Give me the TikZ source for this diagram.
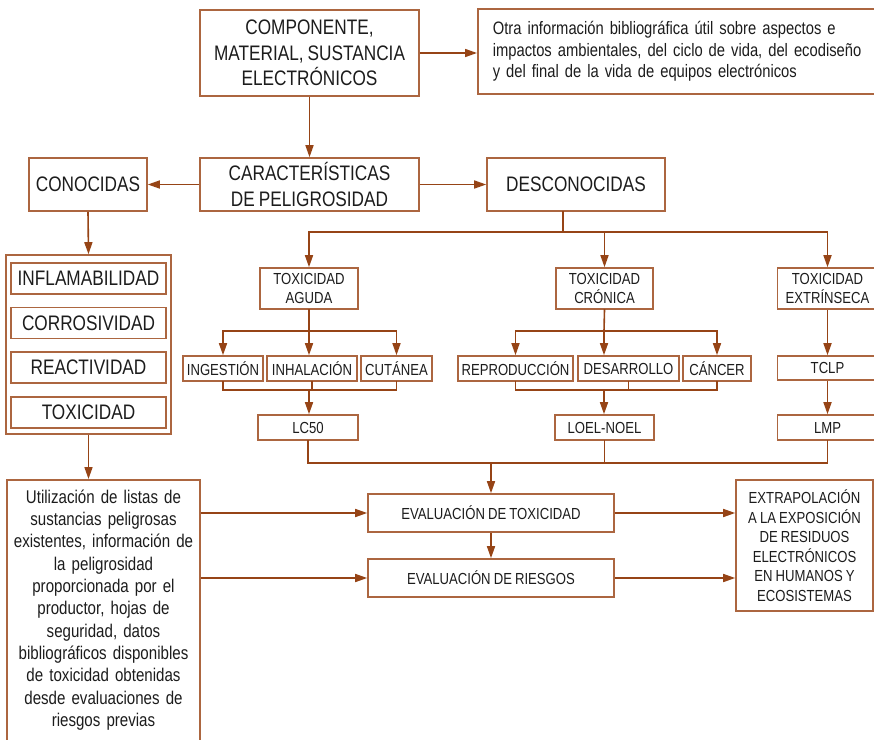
\documentclass[tikz,border=0pt]{standalone}
\usepackage{fontspec}
\setmainfont{Liberation Sans}[FakeStretch=0.82, WordSpace=0.85]
\usetikzlibrary{arrows.meta}
\definecolor{cafe}{RGB}{172,102,64}
\definecolor{cafeosc}{RGB}{150,68,22}
\definecolor{tinta}{RGB}{28,28,28}
\tikzset{
  caja/.style={draw=cafe, line width=1.6pt, text=tinta, inner sep=0pt, align=center},
  grande/.style={font=\fontsize{21}{25.5}\selectfont},
  medio/.style={font=\fontsize{18.4}{22.3}\selectfont},
  texto/.style={font=\fontsize{18}{21.7}\selectfont},
  chico/.style={font=\fontsize{16}{19.5}\selectfont},
  linea/.style={draw=cafeosc, line width=1.6pt, line cap=rect},
  flecha/.style={draw=cafeosc, line width=1.6pt, -{Triangle[length=12pt,width=8pt]}}
}
\begin{document}
\begin{tikzpicture}[x=1pt, y=-1pt]
\useasboundingbox (0,0) rectangle (874,739);
\node[caja, grande, minimum width=219, minimum height=86] (comp) at (309.5,53) {COMPONENTE,\\MATERIAL, SUSTANCIA\\ELECTRÓNICOS};
\node[caja, texto, anchor=west, text width=378, inner xsep=15pt, align=left, minimum height=85] (otra) at (477,51.5) {Otra información bibliográfica útil sobre aspectos e\\impactos ambientales, del ciclo de vida, del ecodiseño\\y del final de la vida de equipos electrónicos};
\node[caja, grande, minimum width=219, minimum height=53] (carac) at (309.5,184.5) {CARACTERÍSTICAS\\DE PELIGROSIDAD};
\node[caja, grande, minimum width=118, minimum height=53] (conoc) at (88,184.5) {CONOCIDAS};
\node[caja, grande, minimum width=178, minimum height=53] (desc) at (576,184.5) {DESCONOCIDAS};
% conocidas
\node[caja, minimum width=165, minimum height=179] (grupo) at (88.5,344.5) {};
\node[caja, grande, minimum width=155, minimum height=31] (inflam) at (88.5,278.5) {INFLAMABILIDAD};
\node[caja, grande, minimum width=155, minimum height=31] (corro) at (88.5,323) {CORROSIVIDAD};
\node[caja, grande, minimum width=155, minimum height=31] (react) at (88.5,367.5) {REACTIVIDAD};
\node[caja, grande, minimum width=155, minimum height=31] (toxic) at (88.5,412.5) {TOXICIDAD};
\node[caja, medio, anchor=north, text width=187, inner xsep=3pt, inner ysep=10pt] (util) at (103.5,479) {Utilización de listas de\\sustancias peligrosas\\existentes, información de\\la peligrosidad\\proporcionada por el\\productor, hojas de\\seguridad, datos\\bibliográficos disponibles\\de toxicidad obtenidas\\desde evaluaciones de\\riesgos previas\\[30pt]\mbox{}};
% desconocidas
\node[caja, chico, minimum width=98, minimum height=41] (aguda) at (309,288.5) {TOXICIDAD\\AGUDA};
\node[caja, chico, minimum width=97, minimum height=41] (cronica) at (604.5,288.5) {TOXICIDAD\\CRÓNICA};
\node[caja, chico, minimum width=100, minimum height=41] (extrin) at (827.5,288.5) {TOXICIDAD\\EXTRÍNSECA};
\node[caja, chico, minimum width=80, minimum height=25] (inges) at (223,368.5) {INGESTIÓN};
\node[caja, chico, minimum width=90, minimum height=25] (inhal) at (312,368.5) {INHALACIÓN};
\node[caja, chico, minimum width=71, minimum height=25] (cutan) at (396.5,368.5) {CUTÁNEA};
\node[caja, chico, minimum width=115, minimum height=25] (repro) at (515.5,368.5) {REPRODUCCIÓN};
\node[caja, chico, minimum width=101, minimum height=25] (desar) at (628.5,368.5) {DESARROLLO};
\node[caja, chico, minimum width=68, minimum height=25] (cancer) at (717,368.5) {CÁNCER};
\node[caja, chico, minimum width=100, minimum height=24] (tclp) at (827.5,368) {TCLP};
\node[caja, chico, minimum width=100, minimum height=25] (lc50) at (308,427.5) {LC50};
\node[caja, chico, minimum width=99, minimum height=25] (loel) at (604.5,427.5) {LOEL-NOEL};
\node[caja, chico, minimum width=100, minimum height=25] (lmp) at (827.5,427.5) {LMP};
% evaluacion
\node[caja, chico, minimum width=246, minimum height=38] (evtox) at (491,513) {EVALUACIÓN DE TOXICIDAD};
\node[caja, chico, minimum width=246, minimum height=38] (evries) at (491,578) {EVALUACIÓN DE RIESGOS};
\node[caja, chico, minimum width=137, minimum height=131] (extrap) at (804.5,545.5) {EXTRAPOLACIÓN\\A LA EXPOSICIÓN\\DE RESIDUOS\\ELECTRÓNICOS\\EN HUMANOS Y\\ECOSISTEMAS};
% puntos de union
\coordinate (bus1) at (563,232);
\coordinate (bus2) at (309,331);
\coordinate (bus3) at (309,390);
\coordinate (bus4) at (604,331);
\coordinate (bus5) at (604,390);
\coordinate (bus6) at (491,463);
% conectores
\draw[flecha] (comp.east) -- (comp.east -| otra.west);
\draw[flecha] (comp.south) -- (carac.north);
\draw[flecha] (carac.west) -- (conoc.east);
\draw[flecha] (carac.east) -- (desc.west);
\draw[flecha] (conoc.south) -- (grupo.north);
\draw[flecha] (grupo.south) -- (grupo.south |- util.north);
\draw[flecha] (evtox.west -| util.east) -- (evtox.west);
\draw[flecha] (evries.west -| util.east) -- (evries.west);
\draw[flecha] (evtox.south) -- (evries.north);
\draw[flecha] (evtox.east) -- (evtox.east -| extrap.west);
\draw[flecha] (evries.east) -- (evries.east -| extrap.west);
\draw[linea] (bus1 |- desc.south) -- (bus1);
\draw[linea] (bus1 -| aguda.north) -- (bus1 -| extrin.north);
\draw[flecha] (bus1 -| aguda.north) -- (aguda.north);
\draw[flecha] (bus1 -| cronica.north) -- (cronica.north);
\draw[flecha] (bus1 -| extrin.north) -- (extrin.north);
% aguda
\draw[linea] (aguda.south) -- (bus2);
\draw[linea] (bus2 -| inges.north) -- (bus2 -| cutan.north);
\draw[flecha] (bus2 -| inges.north) -- (inges.north);
\draw[flecha] (bus2) -- (bus2 |- inhal.north);
\draw[flecha] (bus2 -| cutan.north) -- (cutan.north);
\draw[linea] (inges.south) -- (inges.south |- bus3) -- (cutan.south |- bus3) -- (cutan.south);
\draw[linea] (inhal.south) -- (inhal.south |- bus3);
\draw[flecha] (bus3) -- (bus3 |- lc50.north);
% cronica
\draw[linea] (cronica.south) -- (bus4);
\draw[linea] (bus4 -| repro.north) -- (bus4 -| cancer.north);
\draw[flecha] (bus4 -| repro.north) -- (repro.north);
\draw[flecha] (bus4) -- (bus4 |- desar.north);
\draw[flecha] (bus4 -| cancer.north) -- (cancer.north);
\draw[linea] (repro.south) -- (repro.south |- bus5) -- (cancer.south |- bus5) -- (cancer.south);
\draw[linea] (desar.south) -- (desar.south |- bus5);
\draw[flecha] (bus5) -- (bus5 |- loel.north);
% extrinseca
\draw[flecha] (extrin.south) -- (tclp.north);
\draw[flecha] (tclp.south) -- (lmp.north);
% hacia evaluacion
\draw[linea] (lc50.south) -- (lc50.south |- bus6);
\draw[linea] (loel.south) -- (loel.south |- bus6);
\draw[linea] (lmp.south) -- (lmp.south |- bus6);
\draw[linea] (lc50.south |- bus6) -- (lmp.south |- bus6);
\draw[flecha] (bus6) -- (evtox.north);
\end{tikzpicture}
\end{document}
